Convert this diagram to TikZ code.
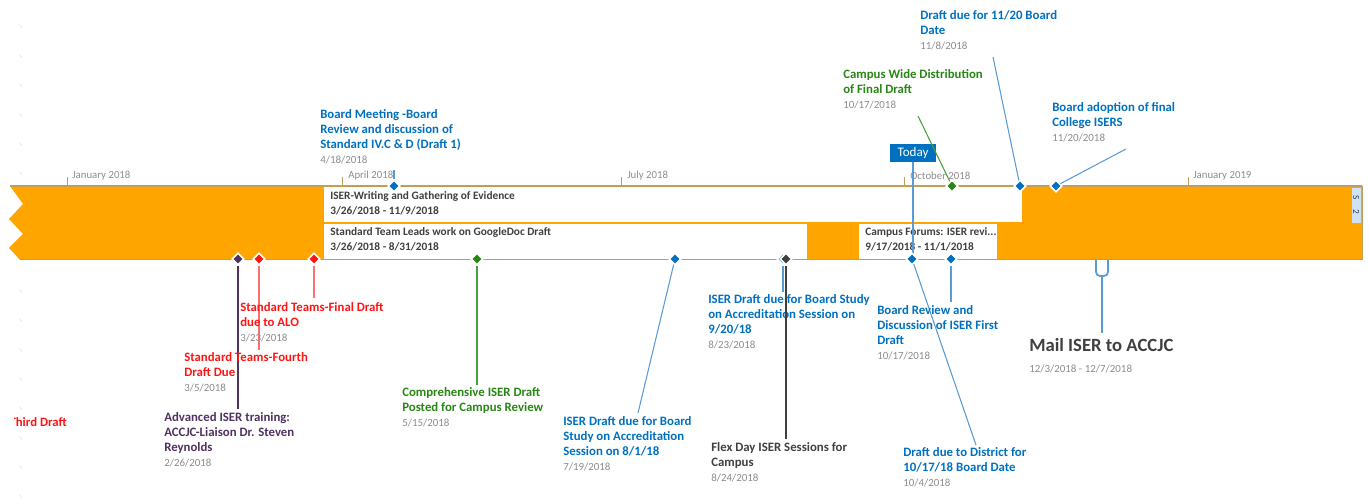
\documentclass[tikz,border=0pt]{standalone}
\usepackage{fontspec}
\setmainfont{Carlito}
\usetikzlibrary{shapes.geometric,positioning}
\definecolor{bandorange}{RGB}{255,165,0}
\definecolor{axistan}{RGB}{196,156,84}
\definecolor{msblue}{RGB}{0,112,192}
\definecolor{lineblue}{RGB}{91,155,213}
\definecolor{msgreen}{RGB}{40,135,20}
\definecolor{linegreen}{RGB}{70,160,60}
\definecolor{msred}{RGB}{255,20,20}
\definecolor{linered}{RGB}{255,110,110}
\definecolor{mspurple}{RGB}{80,50,95}
\definecolor{msgray}{RGB}{64,64,64}
\definecolor{dategray}{RGB}{140,140,140}
\definecolor{boxblue}{RGB}{207,226,243}
\tikzset{ms/.style={diamond, fill=#1, draw=white, line width=1.2pt, inner sep=0pt, minimum size=9pt},
lbl/.style={anchor=north west, align=left, inner sep=0pt, text=#1, font=\bfseries\fontsize{9.6}{11.25}\selectfont},
task/.style={anchor=north west, align=left, inner sep=0pt, text=msgray, font=\bfseries\fontsize{8.5}{11.25}\selectfont},
month/.style={anchor=west, inner sep=0pt, text=dategray, font=\fontsize{8.1}{9}\selectfont},
%connector lines
conn/.style={#1, line width=0.8pt}}
\newcommand{\dt}[1]{\\[0.5pt]{\mdseries\fontsize{8.2}{9}\selectfont\color{dategray}#1}}

\begin{document}
\begin{tikzpicture}[x=0.75pt,y=-0.75pt]
\useasboundingbox (0,0) rectangle (1369,498);

% faint marks on the left edge
\foreach \y in {26,56,85,115,144,173,291,320,350,379,408,438,467,496}
  \draw[black!12] (19,\y-1.5) -- (22,\y+1.5);

% band
\fill[bandorange] (10,186) -- (1362,186) -- (1362,260) -- (20,260) -- (9,248) -- (23,234) -- (9,219) -- (23,204) -- cycle;
\fill[white] (324,187) rectangle (1022,223); %writing
\fill[white] (324,223) rectangle (807,259); %team leads
\fill[white] (859,223) rectangle (997,259); %campus forums
\draw[bandorange, line width=0.8pt] (324,223)--(1022,223);
\fill[boxblue] (1352,188) rectangle (1361,223);
\begin{scope}
\clip (1352,188) rectangle (1361,223);
\node[rotate=-90, inner sep=0pt, text=msgray, font=\fontsize{7}{8}\selectfont] (sbox) at (1356,205) {S\quad 2};
\end{scope}

\draw[axistan, line width=1pt] (10,186)--(1362,186);
\draw[axistan, line width=1pt] (20,259.5)--(1362,259.5);
\draw[axistan] (1362,186)--(1362,260);

% months
\draw[axistan] (67,186)--(67,177);
\node[month] (jan18) at (72,176) {January 2018};
\draw[axistan] (342,186)--(342,177);
\node[month] (apr18) at (348,176) {April 2018};
\draw[axistan] (621,186)--(621,177);
\node[month] (jul18) at (627,176) {July 2018};
\draw[axistan] (904,186)--(904,177);
\node[month] (oct18) at (910,176) {October 2018};
\draw[axistan] (1188,186)--(1188,177);
\node[month] (jan19) at (1193,176) {January 2019};

% tasks
\node[task] (t-write) at (330,191) {ISER-Writing and Gathering of Evidence\\3/26/2018 - 11/9/2018};
\node[task] (t-leads) at (330,227) {Standard Team Leads work on GoogleDoc Draft\\3/26/2018 - 8/31/2018};
\node[task] (t-forum) at (865,227) {Campus Forums: ISER revi...\\9/17/2018 - 11/1/2018};

% Today
\node[fill=msblue, text=white, inner sep=0pt, minimum width=35pt, minimum height=13.5pt, font=\fontsize{9.8}{11}\selectfont] (today) at (913,153) {Today};
\coordinate (today-end) at (913,259);
\draw[conn=lineblue] (today.south)--(today-end);

% upper milestones
\node[ms=msblue] (m-board) at (394,186) {};
\coordinate (c-board) at (394,170);
\draw[conn=lineblue] (m-board)--(c-board);
\node[lbl=msblue] (l-board) at (320,109) {Board Meeting -Board\\Review and discussion of\\Standard IV.C \& D (Draft 1)\dt{4/18/2018}};

\node[ms=msgreen] (m-campus) at (952,186) {};
\coordinate (c-campus) at (918,116);
\draw[conn=linegreen] (m-campus)--(c-campus);
\node[lbl=msgreen] (l-campus) at (843,69) {Campus Wide Distribution\\of Final Draft\dt{10/17/2018}};

\node[ms=msblue] (m-due) at (1020,186) {};
\coordinate (c-due) at (993,57);
\draw[conn=lineblue] (m-due)--(c-due);
\node[lbl=msblue] (l-due) at (920,10) {Draft due for 11/20 Board\\Date\dt{11/8/2018}};

\node[ms=msblue] (m-adopt) at (1056,186) {};
\coordinate (c-adopt) at (1126,149);
\draw[conn=lineblue] (m-adopt)--(c-adopt);
\node[lbl=msblue] (l-adopt) at (1052,102) {Board adoption of final\\College ISERS\dt{11/20/2018}};

% lower milestones
\node[ms=mspurple] (m-adv) at (238,259) {};
\coordinate (c-adv) at (238,409);
\draw[conn=mspurple] (m-adv)--(c-adv);
\node[lbl=mspurple] (l-adv) at (164,412) {Advanced ISER training:\\ACCJC-Liaison Dr. Steven\\Reynolds\dt{2/26/2018}};

\node[ms=msred] (m-fourth) at (259,259) {};
\coordinate (c-fourth) at (259,350);
\draw[conn=linered] (m-fourth)--(c-fourth);
\node[lbl=msred] (l-fourth) at (184,352) {Standard Teams-Fourth\\Draft Due\dt{3/5/2018}};

\node[ms=msred] (m-final) at (314,259) {};
\coordinate (c-final) at (314,298);
\draw[conn=linered] (m-final)--(c-final);
\node[lbl=msred] (l-final) at (240,302) {Standard Teams-Final Draft\\due to ALO\dt{3/23/2018}};

\begin{scope}
\clip (14,400) rectangle (100,440);
\node[lbl=msred, anchor=north east] (l-third) at (67,417) {Third Draft};
\end{scope}

\node[ms=msgreen] (m-comp) at (477,259) {};
\coordinate (c-comp) at (477,385);
\draw[conn=linegreen] (m-comp)--(c-comp);
\node[lbl=msgreen] (l-comp) at (402,387) {Comprehensive ISER Draft\\Posted for Campus Review\dt{5/15/2018}};

\node[ms=msblue] (m-study1) at (675,259) {};
\coordinate (c-study1) at (638,413);
\draw[conn=lineblue] (m-study1)--(c-study1);
\node[lbl=msblue] (l-study1) at (563,416) {ISER Draft due for Board\\Study on Accreditation\\Session on 8/1/18\dt{7/19/2018}};

\node[ms=msblue] (m-study2) at (783,259) {};
\coordinate (c-study2) at (783,292);
\draw[conn=lineblue] (m-study2)--(c-study2);
\node[lbl=msblue] (l-study2) at (708,294) {ISER Draft due for Board Study\\on Accreditation Session on\\9/20/18\dt{8/23/2018}};

\node[ms=msgray] (m-flex) at (786,259) {};
\coordinate (c-flex) at (786,439);
\draw[conn=msgray] (m-flex)--(c-flex);
\node[lbl=msgray] (l-flex) at (711,442) {Flex Day ISER Sessions for\\Campus\dt{8/24/2018}};

\node[ms=msblue] (m-district) at (912,259) {};
\coordinate (c-district) at (976,445);
\draw[conn=lineblue] (m-district)--(c-district);
\node[lbl=msblue] (l-district) at (903,447) {Draft due to District for\\10/17/18 Board Date\dt{10/4/2018}};

\node[ms=msblue] (m-review) at (951,259) {};
\coordinate (c-review) at (951,302);
\draw[conn=lineblue] (m-review)--(c-review);
\node[lbl=msblue] (l-review) at (877,305) {Board Review and\\Discussion of ISER First\\Draft\dt{10/17/2018}};

% Mail ISER
\draw[lineblue, line width=1.3pt, rounded corners=3pt] (1096,260)--(1096,276)--(1108,276)--(1108,260);
\coordinate (c-mail1) at (1102,276);
\coordinate (c-mail2) at (1102,333);
\draw[lineblue, line width=1.3pt] (c-mail1)--(c-mail2);
\node[lbl=msgray, font=\bfseries\fontsize{14}{15}\selectfont] (l-mail) at (1029,338) {Mail ISER to ACCJC\dt{12/3/2018 - 12/7/2018}};

\end{tikzpicture}
\end{document}
